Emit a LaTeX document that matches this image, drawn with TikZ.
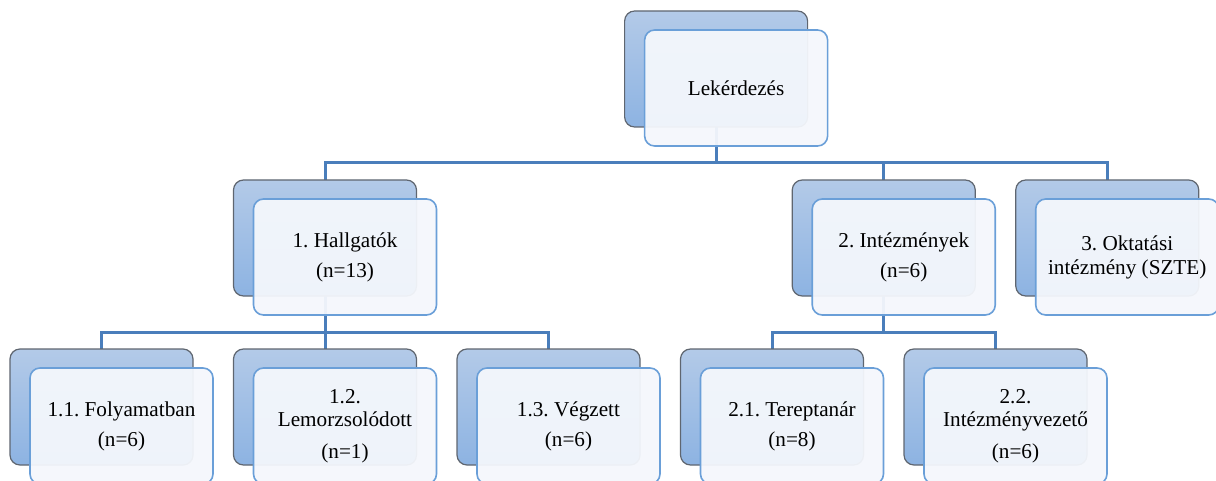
\documentclass[tikz,border=0pt]{standalone}
\usepackage{fontspec}
\setmainfont{Liberation Serif}
\usetikzlibrary{positioning,calc,backgrounds}
\frenchspacing

\definecolor{linkblue}{HTML}{4A7EBB}
\definecolor{backtop}{HTML}{B3CAE8}
\definecolor{backbot}{HTML}{8DB3E2}
\definecolor{backrim}{HTML}{5F6670}
\definecolor{frontrim}{HTML}{6A9FD8}
\definecolor{frontfill}{HTML}{F4F7FC}

\begin{document}
\begin{tikzpicture}[x=0.5pt,y=-0.5pt,node distance=26.5pt and 20.25pt,
    back node/.style={rectangle,rounded corners=5pt,draw=backrim,line width=0.6pt,top color=backtop,bottom color=backbot,minimum width=91.5pt,minimum height=58pt,inner sep=0pt,outer sep=0pt},
    front node/.style={rectangle,rounded corners=5pt,draw=frontrim,line width=0.8pt,fill=frontfill,fill opacity=0.95,text opacity=1,minimum width=91.5pt,minimum height=58pt,inner sep=1pt,outer sep=0pt,align=center,font=\fontsize{10.6}{15}\selectfont,shift={(20,19)}},
    link/.style={draw=linkblue,line width=1.5pt}]

  \useasboundingbox (0,0) rectangle (1216,481);
  \clip (0,0) rectangle (1216,481);

  % back boxes
  \node[back node] (l11) at (101.5,407) {};
  \node[back node,right=of l11] (l12) {};
  \node[back node,right=of l12] (l13) {};
  \node[back node,right=of l13] (l21) {};
  \node[back node,right=of l21] (l22) {};
  \node[back node,above=of l12] (hall) {};
  \coordinate (mid2) at ($(l21.north)!.5!(l22.north)$);
  \node[back node,above=of mid2] (inst) {};
  \node[back node,right=of inst] (szte) {};
  \coordinate (mid1) at ($(hall.north)!.5!(szte.north)$);
  \node[back node,above=of mid1] (query) {};

  % front boxes
  \node[front node] (queryf) at (query) {Lekérdezés};
  \node[front node] (hallf) at (hall) {1. Hallgatók\\(n=13)};
  \node[front node] (instf) at (inst) {2. Intézmények\\(n=6)};
  \node[front node] (sztef) at (szte) {3. Oktatási\\[-3pt]intézmény (SZTE)};
  \node[front node] (l11f) at (l11) {1.1. Folyamatban\\(n=6)};
  \node[front node] (l12f) at (l12) {1.2.\\[-3.5pt]Lemorzsolódott\\[1pt](n=1)};
  \node[front node] (l13f) at (l13) {1.3. Végzett\\(n=6)};
  \node[front node] (l21f) at (l21) {2.1. Tereptanár\\(n=8)};
  \node[front node] (l22f) at (l22) {2.2.\\[-3.5pt]Intézményvezető\\[1pt](n=6)};

  % connectors
  \begin{scope}[on background layer]
    \coordinate (bar0) at ($(queryf.south)!.5!(hall.north)$);
    \coordinate (bar1) at ($(hallf.south)!.5!(l12.north)$);
    \foreach \c in {hall,inst,szte}
      \draw[link] (query.center) -- (query.center |- bar0) -| (\c.center);
    \foreach \c in {l11,l12,l13}
      \draw[link] (hall.center) -- (hall.center |- bar1) -| (\c.center);
    \foreach \c in {l21,l22}
      \draw[link] (inst.center) -- (inst.center |- bar1) -| (\c.center);
  \end{scope}
\end{tikzpicture}
\end{document}
